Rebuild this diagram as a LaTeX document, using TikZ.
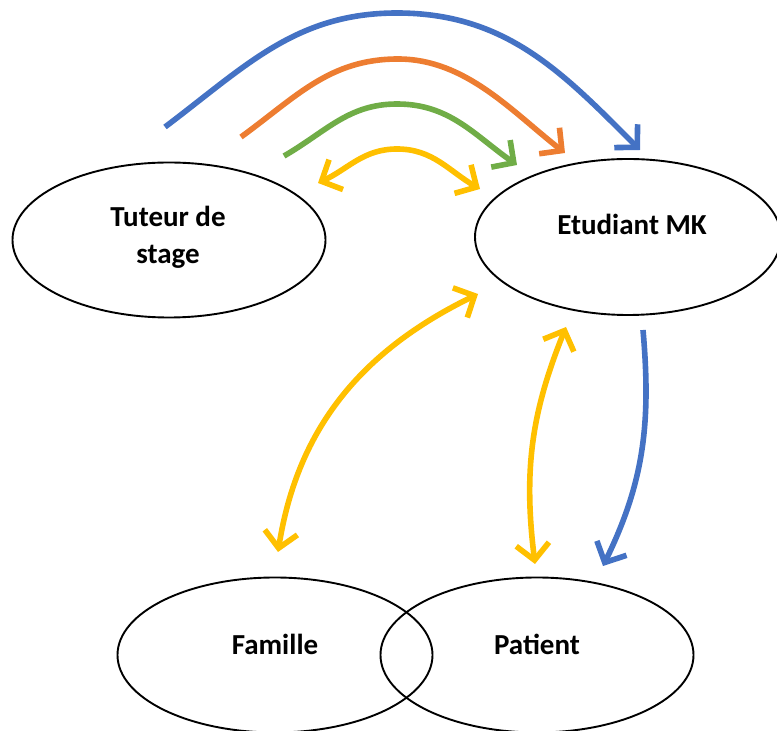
\documentclass[tikz,border=0pt]{standalone}
\usepackage{fontspec}
\setmainfont{Carlito}
\usetikzlibrary{shapes.geometric,arrows.meta}
\definecolor{bleu}{HTML}{4472C4}
\definecolor{orange}{HTML}{ED7D31}
\definecolor{vert}{HTML}{70AD47}
\definecolor{jaune}{HTML}{FFC000}
\begin{document}
\begin{tikzpicture}[x=1pt,y=1pt,
    bulle/.style={draw,ellipse,line width=1.9pt,inner sep=0pt},
    txt/.style={font=\fontsize{29}{37}\selectfont\bfseries,align=center},
    fl/.style={line width=5.6pt,>={Straight Barb[length=16pt,width=33pt]}}]
    \useasboundingbox (0,0) rectangle (777,731);
    \node[bulle,minimum width=313pt,minimum height=155pt] (tut) at (169,491) {};
    \node[bulle,minimum width=306pt,minimum height=156pt] (etu) at (628,494) {};
    \node[bulle,minimum width=315pt,minimum height=155pt] (fam) at (275,76) {};
    \node[bulle,minimum width=313pt,minimum height=155pt] (pat) at (537,76) {};
    \node[txt] (tutt) at (168,494) {Tuteur de\\stage};
    \node[txt,anchor=base] (etut) at (632,496) {Etudiant MK};
    \node[txt,anchor=base] (famt) at (275,76) {Famille};
    \node[txt,anchor=base] (patt) at (537,76) {Patient};
    % points des fleches
    \coordinate (b1) at (165,604); \coordinate (b2) at (397,718); \coordinate (b3) at (640,581);
    \coordinate (o1) at (241,594); \coordinate (o2) at (398,672); \coordinate (o3) at (565,578);
    \coordinate (v1) at (284,575); \coordinate (v2) at (397,627); \coordinate (v3) at (517,566);
    \coordinate (j1) at (318,548); \coordinate (j2) at (397,582); \coordinate (j3) at (480,542);
    \coordinate (jf1) at (478,437); \coordinate (jf2) at (278,179);
    \coordinate (jp1) at (566,404); \coordinate (jp2) at (535,167);
    \coordinate (bp1) at (643,401); \coordinate (bp2) at (603,165);
    \draw[fl,bleu,->] (b1) to[out=37,in=180] (b2) to[out=0,in=135] (b3);
    \draw[fl,orange,->] (o1) to[out=36,in=180] (o2) to[out=0,in=142,looseness=0.9] (o3);
    \draw[fl,vert,->] (v1) to[out=30,in=180] (v2) to[out=0,in=145] (v3);
    \draw[fl,jaune,<->] (j1) to[out=25,in=180] (j2) to[out=0,in=150] (j3);
    \draw[fl,jaune,<->] (jf1) to[out=206,in=81] (jf2);
    \draw[fl,jaune,<->] (jp1) to[out=248,in=97] (jp2);
    \draw[fl,bleu,->] (bp1) to[out=-85,in=64] (bp2);
\end{tikzpicture}
\end{document}
